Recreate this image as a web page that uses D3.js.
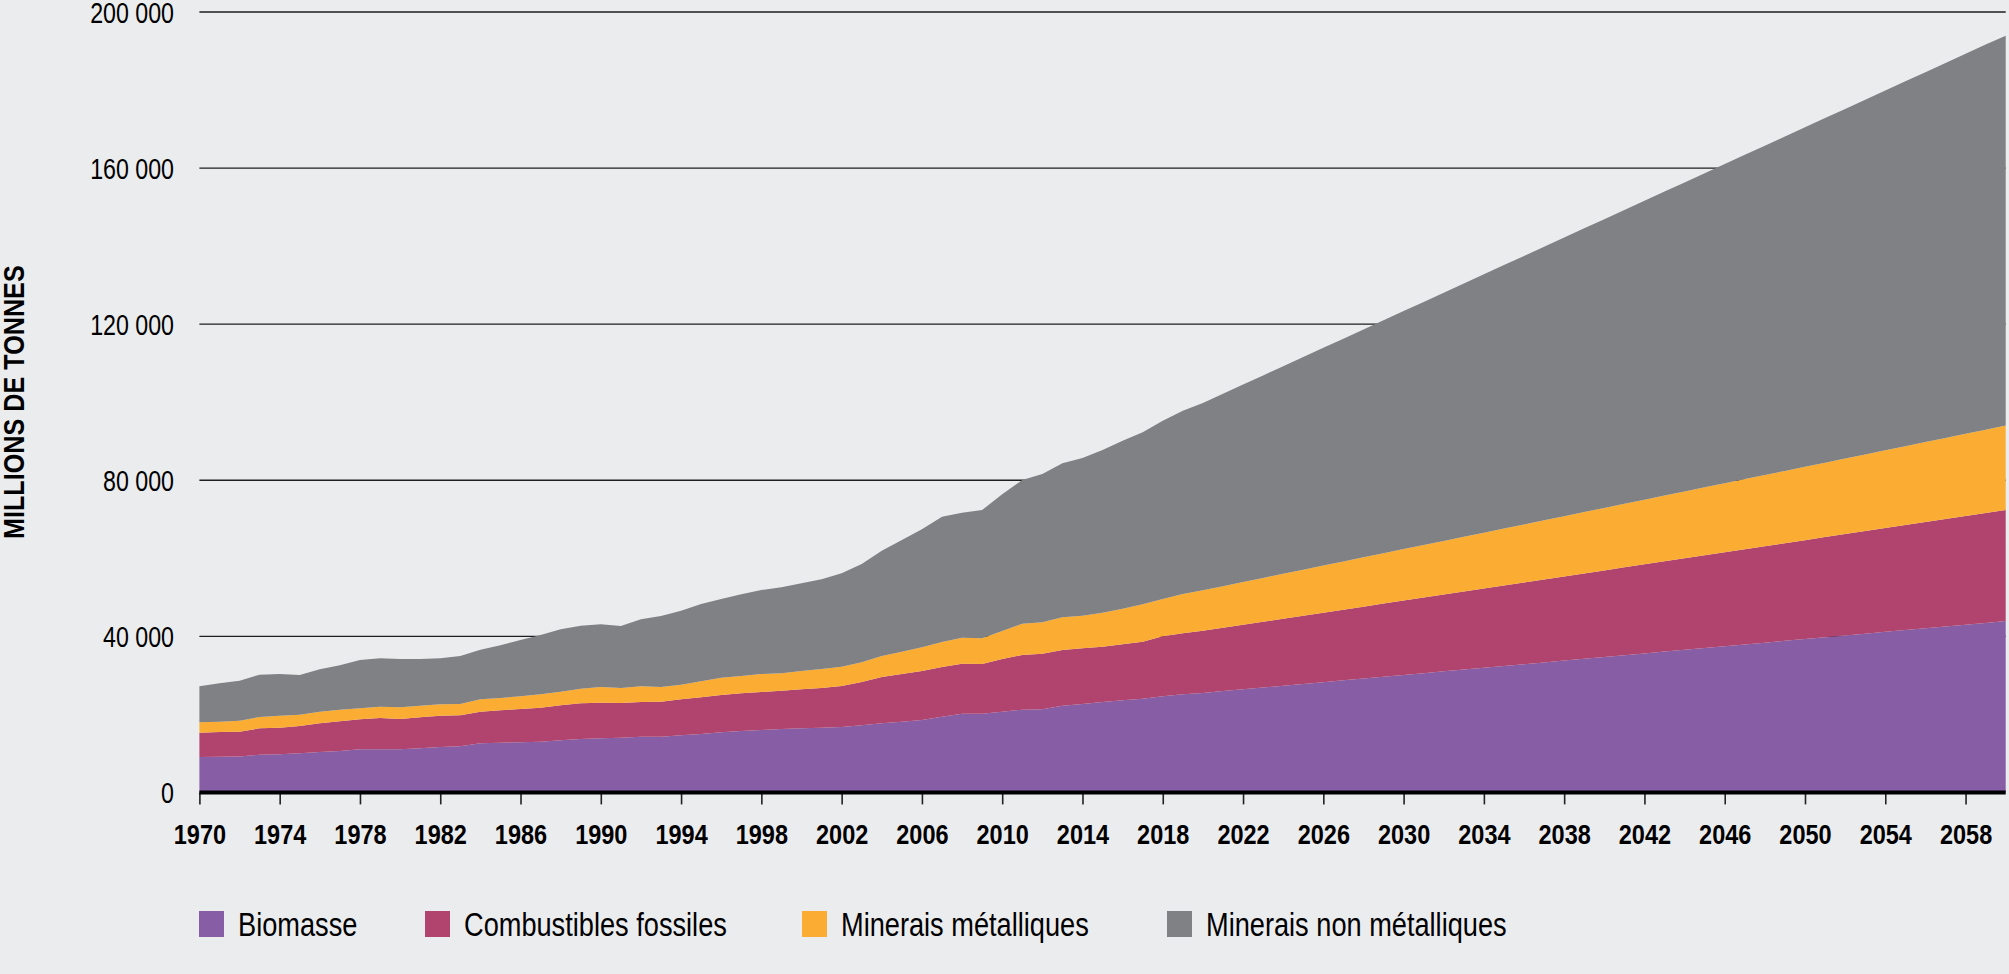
<!DOCTYPE html>
<html>
<head>
<meta charset="utf-8">
<script src="https://cdn.jsdelivr.net/npm/d3@7"></script>
<style>
  html, body { margin: 0; padding: 0; background: #ebecee; }
  svg { display: block; }
  text { font-family: "Liberation Sans", Arial, sans-serif; fill: #000; }
</style>
</head>
<body>
<svg id="chart" width="2009" height="974"></svg>
<script>
// ---------- DATA ----------
const years = d3.range(1970, 2061);

const seriesNames = ["Biomasse", "Combustibles fossiles", "Minerais métalliques", "Minerais non métalliques"];

const biomasse = [
  9070, 9150, 9230, 9660, 9760, 10020, 10350, 10610, 11050, 11050,
  11050, 11300, 11640, 11810, 12580, 12740, 12840, 12990, 13350, 13690,
  13870, 14020, 14280, 14280, 14630, 14960, 15400, 15740, 15990, 16250,
  16430, 16580, 16760, 17200, 17710, 18120, 18560, 19400, 20170, 20170,
  20680, 21200, 21300, 22220, 22660, 23170, 23610, 24020, 24630, 25140,
  25500, 25960, 26420, 26880, 27340, 27800, 28260, 28720, 29180, 29640,
  30100, 30560, 31020, 31480, 31940, 32400, 32860, 33320, 33780, 34240,
  34700, 35160, 35620, 36080, 36540, 37000, 37460, 37920, 38380, 38840,
  39300, 39760, 40220, 40680, 41140, 41600, 42060, 42520, 42980, 43440,
  43900
];

const combustiblesFossiles = [
  6230, 6330, 6330, 6770, 6820, 7000, 7360, 7610, 7690, 8020,
  7760, 7950, 8020, 7950, 8110, 8300, 8540, 8720, 8970, 9150,
  9120, 8890, 8890, 8970, 9230, 9400, 9560, 9660, 9740, 9820,
  9990, 10180, 10510, 11100, 11870, 12230, 12550, 12740, 12820, 12740,
  13510, 14020, 14250, 14280, 14270, 14170, 14350, 14600, 15380, 15640,
  15900, 16220, 16530, 16850, 17160, 17480, 17790, 18110, 18420, 18740,
  19050, 19370, 19680, 20000, 20310, 20630, 20940, 21260, 21570, 21890,
  22200, 22520, 22830, 23150, 23460, 23780, 24090, 24410, 24720, 25040,
  25350, 25670, 25980, 26300, 26610, 26930, 27240, 27560, 27870, 28190,
  28500
];

const mineraisMetalliques = [
  2660, 2640, 2820, 2900, 3080, 2900, 2980, 2980, 2810, 2900,
  3000, 2970, 2920, 2900, 3170, 3150, 3250, 3430, 3490, 3740,
  4020, 3850, 4020, 3760, 3740, 4140, 4440, 4430, 4620, 4450,
  4690, 4870, 4950, 5040, 5380, 5710, 6080, 6410, 6660, 6580,
  7180, 8020, 8050, 8380, 8360, 8720, 9120, 9590, 9560, 10070,
  10400, 10680, 10960, 11240, 11520, 11800, 12080, 12360, 12640, 12920,
  13200, 13480, 13760, 14040, 14320, 14600, 14880, 15160, 15440, 15720,
  16000, 16280, 16560, 16840, 17120, 17400, 17680, 17960, 18240, 18520,
  18800, 19080, 19360, 19640, 19920, 20200, 20480, 20760, 21040, 21320,
  21600
];

const mineraisNonMetalliques = [
  9230, 9840, 10250, 10840, 10690, 10170, 10860, 11370, 12380, 12400,
  12380, 11970, 11790, 12300, 12720, 13510, 14430, 15200, 15990, 16150,
  16070, 15890, 17170, 18200, 18980, 19790, 20170, 20940, 21530, 22040,
  22480, 22980, 23930, 25200, 27000, 28630, 30230, 32120, 32040, 32890,
  35030, 36830, 38010, 39460, 40420, 41700, 43070, 44080, 45700, 46980,
  48000, 49300, 50600, 51900, 53200, 54500, 55800, 57100, 58400, 59700,
  61000, 62300, 63600, 64900, 66200, 67500, 68800, 70100, 71400, 72700,
  74000, 75300, 76600, 77900, 79200, 80500, 81800, 83100, 84400, 85700,
  87000, 88300, 89600, 90900, 92200, 93500, 94800, 96100, 97400, 98700,
  99900
];

const yTickValues = [0, 40000, 80000, 120000, 160000, 200000];
const xTickValues = d3.range(1970, 2059, 4);
const yAxisTitle = "MILLIONS DE TONNES";

const colors = ["#875ea6", "#b0446f", "#fbad33", "#808184"];

// ---------- BUILD ----------
const table = years.map((yr, i) => ({
  year: yr,
  [seriesNames[0]]: biomasse[i],
  [seriesNames[1]]: combustiblesFossiles[i],
  [seriesNames[2]]: mineraisMetalliques[i],
  [seriesNames[3]]: mineraisNonMetalliques[i]
}));

const svg = d3.select("#chart");
const W = 2009, H = 974;
svg.append("rect").attr("width", W).attr("height", H).attr("fill", "#ebecee");

const x = d3.scaleLinear().domain([1970, 2060]).range([199.4, 2005.7]);
const y = d3.scaleLinear().domain([0, 200000]).range([792.4, 12]);

const locale = d3.formatLocale({ decimal: ",", thousands: "\u00a0", grouping: [3], currency: ["", "€"] });
const fmt = locale.format(",d");

// condensed look: horizontal squeeze of Liberation Sans
const NARROW = 0.8;

// gridlines
svg.append("g")
  .selectAll("line")
  .data(yTickValues.filter(d => d > 0))
  .join("line")
  .attr("x1", x(1970)).attr("x2", x(2060))
  .attr("y1", d => y(d)).attr("y2", d => y(d))
  .attr("stroke", "#1e1e1e").attr("stroke-width", 1.3);

// stacked areas
const stack = d3.stack().keys(seriesNames);
const stacked = stack(table);
const area = d3.area()
  .x(d => x(d.data.year))
  .y0(d => y(d[0]))
  .y1(d => y(d[1]));

svg.append("g")
  .selectAll("path")
  .data(stacked)
  .join("path")
  .attr("d", area)
  .attr("fill", (d, i) => colors[i]);

// y tick labels
const yAxis = d3.axisLeft(y).tickValues(yTickValues).tickFormat(fmt).tickSize(0).tickPadding(0);
const gy = svg.append("g").attr("transform", `translate(174,0)`).call(yAxis);
gy.select(".domain").remove();
gy.selectAll("text")
  .attr("font-family", '"Liberation Sans", Arial, sans-serif')
  .attr("font-size", 29).attr("fill", "#000")
  .attr("x", 0).attr("dy", "0.36em")
  .attr("transform", `scale(${NARROW},1)`);

// x axis
const xAxis = d3.axisBottom(x).tickValues(xTickValues).tickFormat(d3.format("d")).tickSize(12).tickPadding(20);
const gx = svg.append("g").attr("transform", `translate(0,${y(0)})`).call(xAxis);
gx.select(".domain").remove();
gx.selectAll(".tick line").attr("stroke", "#222").attr("stroke-width", 1.6);
gx.selectAll("text")
  .attr("font-family", '"Liberation Sans", Arial, sans-serif')
  .attr("font-size", 28).attr("font-weight", "bold").attr("fill", "#000")
  .attr("transform", "scale(0.84,1)");

// baseline
svg.append("line")
  .attr("x1", x(1970)).attr("x2", x(2060))
  .attr("y1", y(0)).attr("y2", y(0))
  .attr("stroke", "#000").attr("stroke-width", 4);

// y axis title
svg.append("text")
  .attr("transform", `translate(24,${(y(0) + y(200000)) / 2}) rotate(-90) scale(0.84,1)`)
  .attr("text-anchor", "middle")
  .attr("font-size", 30).attr("font-weight", "bold")
  .text(yAxisTitle);

// legend
const legendX = [199, 425, 802, 1167];
const leg = svg.append("g").selectAll("g")
  .data(seriesNames)
  .join("g")
  .attr("transform", (d, i) => `translate(${legendX[i]},911)`);
leg.append("rect").attr("width", 25).attr("height", 26).attr("fill", (d, i) => colors[i]);
leg.append("text")
  .attr("transform", `translate(39,13) scale(${NARROW},1)`)
  .attr("dy", "0.36em")
  .attr("font-size", 34).text(d => d);
</script>
</body>
</html>
